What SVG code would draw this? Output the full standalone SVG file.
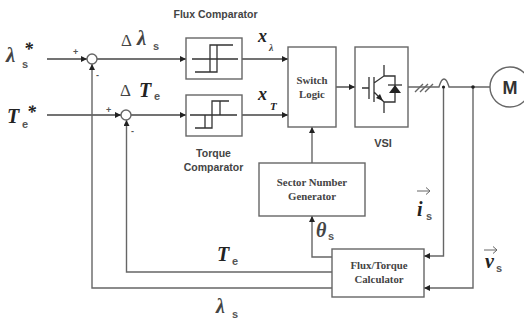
<svg xmlns="http://www.w3.org/2000/svg" width="524" height="321" viewBox="0 0 524 321">
<defs>
<marker id="a" markerUnits="userSpaceOnUse" markerWidth="7" markerHeight="7" refX="6" refY="3" orient="auto"><path d="M0 0L6 3L0 6Z" fill="#222"/></marker>
</defs>
<style>
.b{fill:#fff;stroke:#666;stroke-width:1.4}
.c{fill:none;stroke:#666;stroke-width:1.4}
.k{fill:none;stroke:#444;stroke-width:1.4}
.d{fill:none;stroke:#333;stroke-width:1.3}
.s{font-family:"Liberation Sans",sans-serif;font-weight:bold;font-size:10.500px;fill:#444;text-anchor:middle}
.r{font-family:"Liberation Serif",serif;font-weight:bold;font-size:10.800px;fill:#444;text-anchor:middle}
.m{font-family:"Liberation Serif",serif;font-style:italic;font-weight:bold;fill:#222}
.u{font-family:"Liberation Sans",sans-serif;font-weight:bold;fill:#555}
.g{font-family:"Liberation Serif",serif;fill:#444}
.l{font-family:"Liberation Serif",serif;font-style:italic;font-weight:bold;fill:#444}
</style>
<g id="connectors">
<path class="k" d="M47 59H87" marker-end="url(#a)"/>
<path class="k" d="M47 115H121" marker-end="url(#a)"/>
<path class="k" d="M97 59H186" marker-end="url(#a)"/>
<path class="k" d="M131 115H186" marker-end="url(#a)"/>
<path class="k" d="M242 59H288" marker-end="url(#a)"/>
<path class="k" d="M242 115H288" marker-end="url(#a)"/>
<path class="k" d="M336 87H355" marker-end="url(#a)"/>
<path class="c" d="M312 163V127" marker-end="url(#a)"/>
<path class="c" d="M332 257H312V216" marker-end="url(#a)"/>
<path class="c" d="M332 272H126.500V120" marker-end="url(#a)"/>
<path class="c" d="M332 288H92V64" marker-end="url(#a)"/>
<path class="c" d="M408 87H439C440 84 441 79 444 79C447 79 448 84 449 87H490"/>
<path class="c" d="M443.500 87V256H424" marker-end="url(#a)"/>
<path class="c" d="M473 87V288H424" marker-end="url(#a)"/>
<path class="c" d="M415 92L423 84M420 92L428 84M425 92L433 84" stroke-width="1"/>
<circle cx="443.500" cy="87" r="1.600" fill="#222"/>
<circle cx="473" cy="87" r="1.800" fill="#222"/>
</g>
<g id="sum1"><circle class="b" cx="92" cy="59" r="5"/></g>
<g id="sum2"><circle class="b" cx="126" cy="115" r="5"/></g>
<g id="flux-comparator">
<rect class="b" x="186" y="38" width="56" height="41"/>
<path class="d" d="M192 59H238M195 72H217V45M210 72V45H233"/>
<text class="s" x="215.500" y="18">Flux Comparator</text>
</g>
<g id="torque-comparator">
<rect class="b" x="186" y="95" width="56" height="41"/>
<path class="d" d="M190 115H237M195 128H212V101H229M205 128V115M220 115V101"/>
<text class="s" x="213.500" y="157">Torque</text>
<text class="s" x="213.500" y="171">Comparator</text>
</g>
<g id="switch-logic">
<rect class="b" x="288" y="47" width="48" height="80"/>
<text class="r" x="312" y="84">Switch</text>
<text class="r" x="312" y="98">Logic</text>
</g>
<g id="vsi">
<rect class="b" x="355" y="47" width="53" height="80"/>
<path class="d" d="M362 88H369M369 77V99M374 77V102M374 83L384 76V65M384 76H395V102H384V113M374 92L384 102"/>
<path d="M389 93H401L395 85Z" fill="#222"/><path class="d" d="M388 85H402"/>
<path d="M383 101L376 98L380 94Z" fill="#222"/>
<text class="s" x="383" y="147" style="font-size:11px">VSI</text>
</g>
<g id="motor">
<circle class="b" cx="510" cy="87" r="20"/>
<text class="u" x="510" y="94" font-size="18" text-anchor="middle" style="fill:#333">M</text>
</g>
<g id="sector">
<rect class="b" x="259" y="163" width="106" height="53"/>
<text class="r" x="312" y="186">Sector Number</text>
<text class="r" x="312" y="200">Generator</text>
</g>
<g id="calculator">
<rect class="b" x="332" y="249" width="92" height="48"/>
<text class="r" x="379" y="269">Flux/Torque</text>
<text class="r" x="379" y="283">Calculator</text>
</g>
<g id="labels">
<text class="l" font-size="21" x="6" y="62">λ</text>
<text class="u" font-size="11" x="22" y="68">s</text>
<text class="m" font-size="18" x="24" y="55">*</text>
<text class="m" font-size="20" x="7" y="123">T</text>
<text class="u" font-size="11" x="22" y="128">e</text>
<text class="m" font-size="18" x="27" y="118">*</text>
<text class="u" font-size="9" x="73" y="55">+</text>
<text class="u" font-size="9" x="106" y="113">+</text>
<text class="u" font-size="9" x="96" y="78">-</text>
<text class="u" font-size="9" x="131" y="134">-</text>
<text class="g" font-size="17" x="121" y="46">Δ</text>
<text class="l" font-size="21" x="137" y="45">λ</text>
<text class="u" font-size="11" x="153" y="50">s</text>
<text class="g" font-size="17" x="120" y="96">Δ</text>
<text class="m" font-size="20" x="139" y="97">T</text>
<text class="u" font-size="11" x="154" y="100">e</text>
<text class="m" font-size="18" x="258" y="42">x</text>
<text class="l" font-size="10" x="269" y="51">λ</text>
<text class="m" font-size="18" x="258" y="100">x</text>
<text class="m" font-size="11" x="270" y="110">T</text>
<text class="m" font-size="20" x="217" y="261">T</text>
<text class="u" font-size="11" x="232" y="265">e</text>
<text class="l" font-size="20" x="216" y="313">λ</text>
<text class="u" font-size="11" x="232" y="318">s</text>
<text class="l" font-size="20" x="316" y="237">θ</text>
<text class="u" font-size="11" x="328" y="240">s</text>
<text class="m" font-size="20" x="417" y="216">i</text>
<text class="u" font-size="11" x="426" y="220">s</text>
<text class="m" font-size="20" x="485" y="268">v</text>
<text class="u" font-size="11" x="496" y="272">s</text>
<path d="M417 191H430M426 187.500L430 191L426 194.500M484 250H497M493 246.500L497 250L493 253.500" fill="none" stroke="#666" stroke-width="1"/>
</g>
</svg>
